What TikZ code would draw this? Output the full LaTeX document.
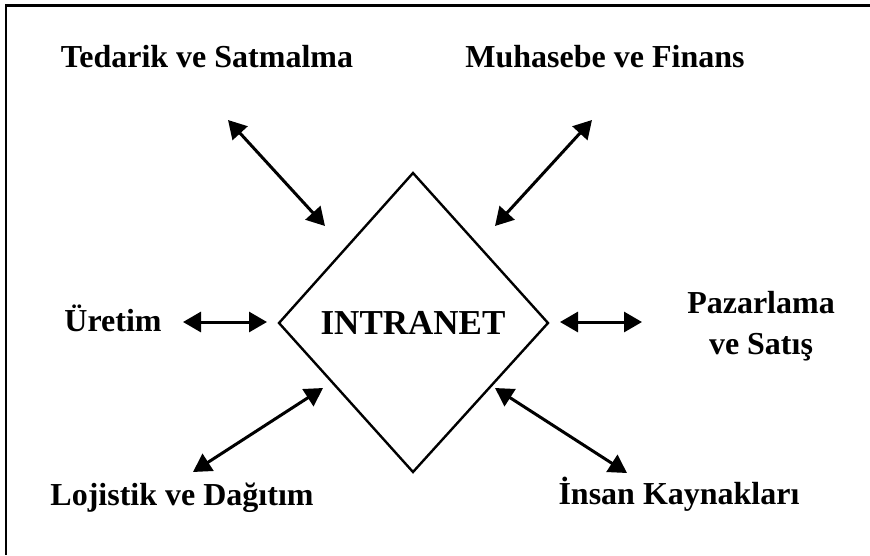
\documentclass[tikz,border=0pt]{standalone}
\usepackage{fontspec}
\setmainfont{Liberation Serif}
\usetikzlibrary{arrows.meta}
\begin{document}
\begin{tikzpicture}[x=1pt,y=-1pt,
  lbl/.style={font=\fontsize{32}{38}\selectfont\bfseries, inner sep=0pt, align=center},
  link/.style={line width=3pt, {Triangle[length=18pt,width=20pt]}-{Triangle[length=18pt,width=20pt]}},
  frame/.style={line width=3pt}]
\useasboundingbox (0,0) rectangle (870,555);
% frame (top and left only)
\draw[frame] (5,5) -- (870,5);
\draw[line width=2.5pt] (6,5) -- (6,555);
% diamond
\coordinate (dt) at (413,173);
\coordinate (dr) at (548,323);
\coordinate (db) at (413,472);
\coordinate (dl) at (279,323);
\draw[line width=2.4pt, line join=miter] (dt) -- (dr) -- (db) -- (dl) -- cycle;
\node[lbl, font=\fontsize{35}{40}\selectfont\bfseries] (intranet) at (413,323) {INTRANET};
% labels
\node[lbl] (ted) at (207,57) {Tedarik ve Satmalma};
\node[lbl] (muh) at (605,57) {Muhasebe ve Finans};
\node[lbl] (ure) at (113,318) {Üretim};
\node[lbl, align=center] (paz) at (761,326) {Pazarlama\\[3pt]ve Satış};
\node[lbl] (loj) at (182,498) {Lojistik ve Dağıtım};
\node[lbl] (ins) at (679,494) {İnsan Kaynakları};
% arrow end points
\coordinate (a1) at (228,120); \coordinate (b1) at (325,226);
\coordinate (a2) at (592,120); \coordinate (b2) at (495,226);
\coordinate (a3) at (183,322); \coordinate (b3) at (267,322);
\coordinate (a4) at (642,322); \coordinate (b4) at (560,322);
\coordinate (a5) at (193,472); \coordinate (b5) at (323,388);
\coordinate (a6) at (627,473); \coordinate (b6) at (495,388);
\draw[link] (a1) -- (b1);
\draw[link] (a2) -- (b2);
\draw[link] (a3) -- (b3);
\draw[link] (a4) -- (b4);
\draw[link] (a5) -- (b5);
\draw[link] (a6) -- (b6);
\end{tikzpicture}
\end{document}
